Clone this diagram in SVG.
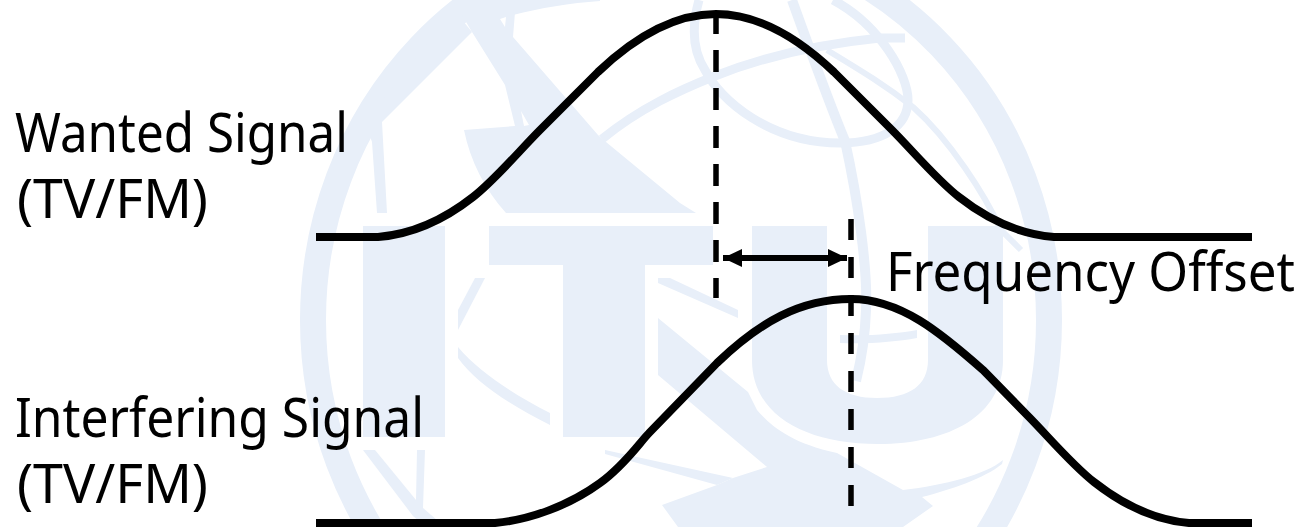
<svg xmlns="http://www.w3.org/2000/svg" width="1301" height="527" viewBox="0 0 1301 527">
<style>
.wm{fill:#e8eff9;stroke:none}
.wl{fill:none;stroke:#e8eff9;stroke-width:9}
.bell{fill:none;stroke:#000;stroke-width:8}
.dash{fill:none;stroke:#000;stroke-width:5.5}
.lbl{font-family:"Noto Sans","Open Sans",sans-serif;font-size:50px;fill:#000}
</style>
<defs>
<marker id="ah" viewBox="0 0 19 18" refX="19" refY="9" markerWidth="19" markerHeight="18" markerUnits="userSpaceOnUse" orient="auto-start-reverse"><path d="M0 0L19 9L0 18Z" fill="#000"/></marker>
</defs>
<rect width="1301" height="527" fill="#fff"/>
<g id="watermark">
<ellipse cx="681" cy="320" rx="368" ry="387" fill="none" stroke="#e8eff9" stroke-width="26"/>
<path class="wm" d="M363 226H445V437H363Z"/>
<path class="wm" d="M489 226H713V265H645V437H563V265H489Z"/>
<path class="wm" d="M752 226H827V360C827 385 845 398 877 398C910 398 928 385 928 360V226H1003V360C1003 415 950 444 878 444C805 444 752 415 752 360Z"/>
<path class="wm" d="M464 130L515 126L505 85L472 32L453 0H516L513 37L598 135L606 142L680 203L696 213H506C485 190 470 160 464 130Z"/>
<path class="wm" d="M372 142L377 213H387L382 122L472 32L454 10L365 122Z"/>
<path class="wm" d="M513 15C540 8 570 3 600 1V-2H515Z"/>
<path class="wl" d="M602 139C640 108 680 90 715 76C760 58 810 45 880 38L905 38"/>
<path class="wl" d="M699 0C692 25 692 50 705 70C720 100 770 143 840 143C885 143 908 125 908 100C908 75 880 25 833 0"/>
<path class="wl" style="stroke-width:10" d="M792 0C810 50 830 105 845 141C858 200 868 270 866 310C865 340 860 365 856 381"/>
<path class="wl" style="stroke-width:6" d="M827 50C860 70 885 85 913 107C950 140 985 195 1001 230L1021 250"/>
<path class="wm" d="M658 278H670L738 310V318L658 283Z"/>
<path class="wm" d="M658 318L748 392L757 410C770 425 790 443 837 453L903 490C945 485 985 475 1003 460L1002 464C985 478 950 490 922 497L933 506L903 527H678L662 505L717 485L733 478L767 467L658 375Z"/>
<path class="wm" d="M605 450L733 478L717 485L605 454Z"/>
<path class="wm" d="M840 335C870 336 895 334 917 330V338C895 342 870 344 840 343Z"/>
<path class="wm" d="M475 278H485L458 330V310Z"/>
<path class="wm" d="M458 347C480 373 515 395 550 413V425C510 405 475 382 458 358Z"/>
<path class="wm" d="M363 450H375L416 500L417 450H425L423 508L445 527H426L413 516Z"/>
<path fill="#fff" d="M500 19L505 27L506 17Z"/>
<path fill="#fff" d="M521 111L529 125L524 126Z"/>
</g>
<g id="connectors">
<path id="wanted-curve" class="bell" d="M316 237H378C415 234 445 219 473 197C495 180 520 150 540 130L598 72C640 32 680 14 716 14C752 14 792 32 834 72L892 130C912 150 937 180 959 197C987 219 1017 234 1054 237H1252"/>
<path id="interfering-curve" class="bell" d="M316 523H495C530 520 570 505 600 483C625 465 640 442 650 432L717 363C760 322 800 299 851 299C900 299 940 332 983 370L1027 415C1047 435 1072 465 1094 482C1122 504 1152 520 1189 523H1252"/>
<line class="dash" stroke-dasharray="22 16" x1="716" y1="12" x2="716" y2="298"/>
<line class="dash" stroke-dasharray="21 17" x1="851" y1="219" x2="851" y2="508"/>
<line id="offset-arrow" x1="723" y1="258" x2="847" y2="258" stroke="#000" stroke-width="6" marker-start="url(#ah)" marker-end="url(#ah)"/>
</g>
<g id="wanted-signal"><text class="lbl" transform="translate(15 152) scale(1 1.08)" textLength="333" lengthAdjust="spacingAndGlyphs">Wanted Signal</text><text class="lbl" transform="translate(17 218) scale(1 1.08)" textLength="191" lengthAdjust="spacingAndGlyphs">(TV/FM)</text></g>
<g id="interfering-signal"><text class="lbl" transform="translate(15 437) scale(1 1.08)" textLength="409" lengthAdjust="spacingAndGlyphs">Interfering Signal</text><text class="lbl" transform="translate(17 503) scale(1 1.08)" textLength="191" lengthAdjust="spacingAndGlyphs">(TV/FM)</text></g>
<g id="frequency-offset"><text class="lbl" transform="translate(886 291) scale(1 1.08)" textLength="409" lengthAdjust="spacingAndGlyphs">Frequency Offset</text></g>
</svg>
